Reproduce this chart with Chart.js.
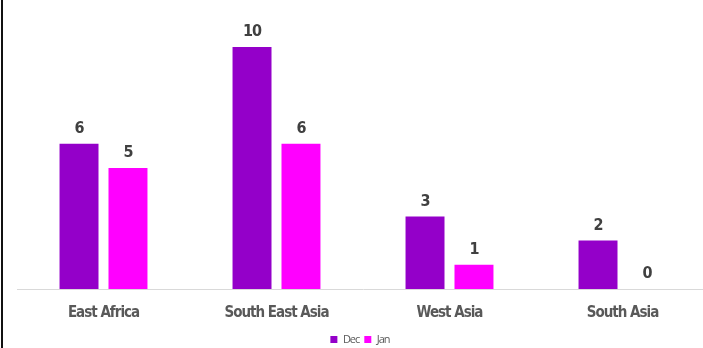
<!DOCTYPE html>
<html>
<head>
<meta charset="utf-8">
<script src="https://cdn.jsdelivr.net/npm/chart.js@4"></script>
<style>
  html, body { margin: 0; padding: 0; background: #fff; overflow: hidden; width: 703px; height: 348px; }
  #wrap { position: absolute; left: 0; top: 0; width: 712px; height: 348px; }
  #edge { position: absolute; left: 1px; top: 0; width: 2px; height: 348px; background: #111; }
</style>
</head>
<body>
<div id="wrap"><canvas id="c" width="712" height="348"></canvas></div>
<div id="edge"></div>
<script>
const categories = ["East Africa", "South East Asia", "West Asia", "South Asia"];
const decValues = [6, 10, 3, 2];
const janValues = [5, 6, 1, 0];
const seriesNames = ["Dec", "Jan"];

const condensedFont = '"DejaVu Sans Condensed", "Liberation Sans Narrow", sans-serif';

const spacingPlugin = {
  id: 'spacing',
  beforeDraw(chart) { chart.ctx.letterSpacing = '-1px'; },
  afterDraw(chart) { chart.ctx.letterSpacing = '0px'; }
};

const labelPlugin = {
  id: 'valueLabels',
  afterDatasetsDraw(chart) {
    const ctx = chart.ctx;
    ctx.save();
    ctx.font = 'bold 16px ' + condensedFont;
    ctx.fillStyle = '#404040';
    ctx.textAlign = 'center';
    ctx.textBaseline = 'bottom';
    chart.data.datasets.forEach((ds, i) => {
      chart.getDatasetMeta(i).data.forEach((el, j) => {
        ctx.fillText(String(ds.data[j]), el.x, el.y - 7);
      });
    });
    ctx.restore();
  }
};

new Chart(document.getElementById('c'), {
  type: 'bar',
  data: {
    labels: categories,
    datasets: [
      { label: seriesNames[0], data: decValues, backgroundColor: '#9400C9', borderWidth: 0 },
      { label: seriesNames[1], data: janValues, backgroundColor: '#FF00FF', borderWidth: 0 }
    ]
  },
  options: {
    responsive: false,
    animation: false,
    devicePixelRatio: 1,
    layout: { padding: { left: 17, right: 3, top: 47, bottom: -7 } },
    categoryPercentage: 0.566,
    barPercentage: 0.796,
    plugins: {
      legend: {
        position: 'bottom',
        labels: {
          boxWidth: 7, boxHeight: 7, padding: 5,
          color: '#595959',
          font: { size: 11, family: '"Open Sans", sans-serif' }
        }
      },
      tooltip: { enabled: false },
      title: { display: false }
    },
    scales: {
      x: {
        grid: { display: false },
        border: { display: true, color: '#d9d9d9', width: 1 },
        ticks: {
          color: '#595959',
          padding: 7,
          font: { size: 15, weight: 'bold', family: condensedFont }
        }
      },
      y: { display: false, min: 0, max: 10 }
    }
  },
  plugins: [spacingPlugin, labelPlugin]
});
</script>
</body>
</html>
